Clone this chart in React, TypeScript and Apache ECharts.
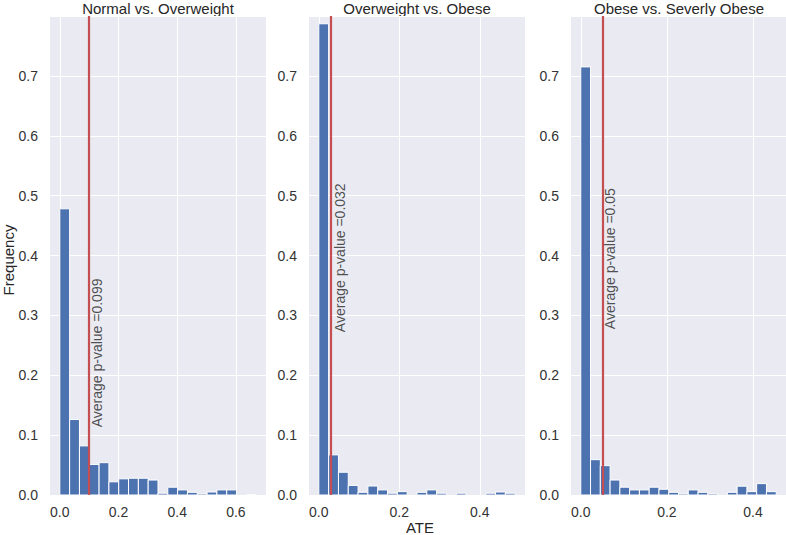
import React, { useEffect, useRef } from "react";
import * as echarts from "echarts";

const panelTitles = ["Normal vs. Overweight", "Overweight vs. Obese", "Obese vs. Severly Obese"];
const ateMaxValues = [0.669, 0.488, 0.454];
const binCount = 20;
const freqNormalOverweight = [0.478, 0.126, 0.082, 0.051, 0.054, 0.022, 0.027, 0.028, 0.028, 0.025, 0.003, 0.013, 0.0085, 0.0045, 0.002, 0.005, 0.0085, 0.0085, 0, 0.0006];
const freqOverweightObese = [0.787, 0.067, 0.038, 0.016, 0.0045, 0.015, 0.0085, 0.003, 0.0056, 0, 0.0045, 0.0085, 0.003, 0, 0.003, 0, 0, 0.003, 0.005, 0.003];
const freqObeseSeverelyObese = [0.715, 0.059, 0.049, 0.025, 0.013, 0.0085, 0.0085, 0.013, 0.0096, 0.0045, 0.002, 0.0085, 0.0045, 0.002, 0, 0.0045, 0.0147, 0.0056, 0.019, 0.0056];
const pValues = [0.099, 0.032, 0.05];
const pLabelY = [0.113, 0.272, 0.277];
const xTickValues = [[0, 0.2, 0.4, 0.6], [0, 0.2, 0.4], [0, 0.2, 0.4]];
const yMax = 0.8;

const FONT = "'Liberation Sans', Arial, sans-serif";
const TEXT = "#333333";
const BG = "#EAEAF2";
const BAR = "#4C72B0";
const RED = "#C44E52";

const gridLefts = [50, 309, 571];
const gridWidth = 216;
const gridTop = 16;
const gridHeight = 479;

export default function App() {
  const ref = useRef<HTMLDivElement>(null);
  useEffect(() => {
    if (!ref.current) return;
    const chart = echarts.init(ref.current, null, { renderer: "svg" });
    const freqs = [freqNormalOverweight, freqOverweightObese, freqObeseSeverelyObese];

    const grids: any[] = [];
    const xAxes: any[] = [];
    const yAxes: any[] = [];
    const series: any[] = [];
    const graphics: any[] = [];

    freqs.forEach((f, i) => {
      const maxV = ateMaxValues[i];
      const bw = maxV / binCount;
      grids.push({
        left: gridLefts[i],
        top: gridTop,
        width: gridWidth,
        height: gridHeight,
        show: true,
        backgroundColor: BG,
        borderWidth: 0,
      });
      xAxes.push({
        type: "value",
        gridIndex: i,
        min: -0.05 * maxV,
        max: 1.05 * maxV,
        axisLine: { show: false },
        axisTick: { show: false, customValues: xTickValues[i] },
        axisLabel: {
          customValues: xTickValues[i],
          formatter: (v: number) => v.toFixed(1),
          color: TEXT,
          fontSize: 14,
          fontFamily: FONT,
          margin: 10,
        },
        splitLine: { show: true, lineStyle: { color: "#ffffff", width: 1 } },
      });
      yAxes.push({
        type: "value",
        gridIndex: i,
        min: 0,
        max: yMax,
        interval: 0.1,
        axisLine: { show: false },
        axisTick: { show: false },
        axisLabel: {
          showMaxLabel: false,
          formatter: (v: number) => v.toFixed(1),
          color: TEXT,
          fontSize: 14,
          fontFamily: FONT,
          margin: 12,
        },
        splitLine: { show: true, lineStyle: { color: "#ffffff", width: 1 } },
      });
      const data = f.map((v, k) => [k * bw, (k + 1) * bw, v]);
      series.push({
        type: "custom",
        xAxisIndex: i,
        yAxisIndex: i,
        data,
        encode: { x: [0, 1], y: 2 },
        renderItem: (params: any, api: any) => {
          const x0 = api.value(0);
          const x1 = api.value(1);
          const h = api.value(2);
          if (!h) return null;
          const p0 = api.coord([x0, h]);
          const p1 = api.coord([x1, 0]);
          return {
            type: "rect",
            shape: { x: p0[0], y: p0[1], width: p1[0] - p0[0], height: p1[1] - p0[1] },
            style: { fill: BAR, stroke: "#ffffff", lineWidth: 1 },
          };
        },
        markLine: {
          silent: true,
          symbol: ["none", "none"],
          label: { show: false },
          lineStyle: { color: RED, width: 2.2, type: "solid" },
          data: [{ xAxis: pValues[i] }],
        },
        z: 2,
      });
      series.push({
        type: "scatter",
        xAxisIndex: i,
        yAxisIndex: i,
        symbolSize: 0,
        silent: true,
        data: [[pValues[i], pLabelY[i]]],
        label: {
          show: true,
          formatter: "Average p-value =" + pValues[i],
          position: [1, 0],
          rotate: 90,
          align: "left",
          verticalAlign: "top",
          color: "#262626",
          fontSize: 14,
          fontFamily: FONT,
        },
        z: 5,
      });
      graphics.push({
        type: "text",
        x: gridLefts[i] + gridWidth / 2,
        y: 8,
        style: {
          text: panelTitles[i],
          fontSize: 15,
          fontFamily: FONT,
          fill: "#262626",
          textAlign: "center",
          textVerticalAlign: "middle",
        },
      });
    });

    graphics.push({
      type: "text",
      x: 8,
      y: 260,
      rotation: Math.PI / 2,
      style: {
        text: "Frequency",
        fontSize: 15,
        fontFamily: FONT,
        fill: "#262626",
        textAlign: "center",
        textVerticalAlign: "middle",
      },
    });
    graphics.push({
      type: "text",
      x: gridLefts[1] + gridWidth / 2 + 3,
      y: 527,
      style: {
        text: "ATE",
        fontSize: 15,
        fontFamily: FONT,
        fill: "#262626",
        textAlign: "center",
        textVerticalAlign: "middle",
      },
    });

    chart.setOption({
      animation: false,
      backgroundColor: "#ffffff",
      grid: grids,
      xAxis: xAxes,
      yAxis: yAxes,
      series,
      graphic: graphics,
    });
    return () => chart.dispose();
  }, []);
  return (
    <div
      ref={ref}
      style={{ width: 786, height: 535, position: "absolute", left: 0, top: 0 }}
    />
  );
}
